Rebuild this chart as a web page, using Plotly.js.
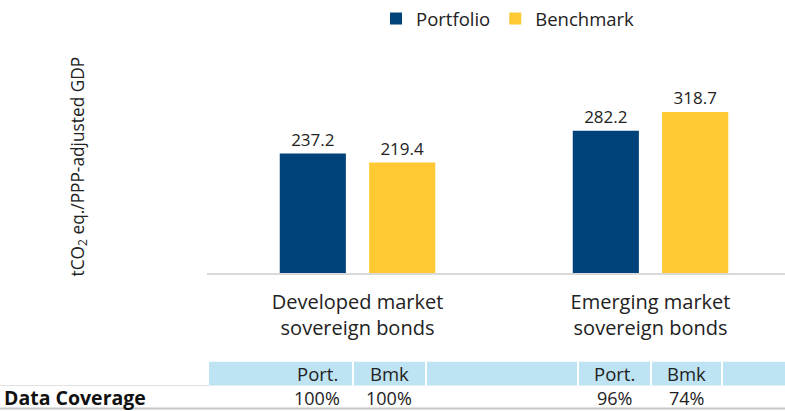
<!DOCTYPE html>
<html>
<head>
<meta charset="utf-8">
<script src="https://cdn.plot.ly/plotly-3.0.1.min.js"></script>
<style>html,body{margin:0;padding:0;background:#fff;}#chart{width:785px;height:411px;}</style>
</head>
<body>
<div id="chart"></div>
<script>
// ---- data ----
const categories = ["Developed market<br>sovereign bonds", "Emerging market<br>sovereign bonds"];
const portfolioValues = [237.2, 282.2];
const benchmarkValues = [219.4, 318.7];
const seriesNames = ["Portfolio", "Benchmark"];
const yAxisTitle = "tCO<sub>2</sub> eq./PPP-adjusted GDP";
const coverageLabel = "Data Coverage";
const coverageHeaders = ["Port.", "Bmk", "Port.", "Bmk"];
const coverageValues = ["100%", "100%", "96%", "74%"];

// ---- layout helpers (pixel -> paper) ----
const W = 785, H = 411;
const M = {l: 211, r: 0, t: 19, b: 137};
const PW = W - M.l - M.r, PH = H - M.t - M.b;
const px = v => (v - M.l) / PW;
const py = v => (H - M.b - v) / PH;

const navy = "#00437A", gold = "#FFC933", band = "#BEE3F3";
const FONT = "Open Sans, Noto Sans, sans-serif";
const txt = "#222222";

const xIdx = categories.map((_, i) => i);

const traces = [
  {type: "bar", name: seriesNames[0], x: xIdx, y: portfolioValues, marker: {color: navy},
   text: portfolioValues.map(v => v.toFixed(1)), textposition: "outside", cliponaxis: false,
   textfont: {family: FONT, size: 17, color: txt}, hoverinfo: "skip"},
  {type: "bar", name: seriesNames[1], x: xIdx, y: benchmarkValues, marker: {color: gold},
   text: benchmarkValues.map(v => v.toFixed(1)), textposition: "outside", cliponaxis: false,
   textfont: {family: FONT, size: 17, color: txt}, hoverinfo: "skip"}
];

const shapes = [];
const annotations = [];
// axis baseline
shapes.push({type: "line", xref: "paper", yref: "paper", x0: px(207), x1: px(785), y0: py(274), y1: py(274),
  line: {color: "#d9d9d9", width: 2}});
// table header band
shapes.push({type: "rect", xref: "paper", yref: "paper", x0: px(209), x1: px(785), y0: py(386), y1: py(362),
  fillcolor: band, line: {width: 0}, layer: "below"});
[353, 426, 578, 651, 722].forEach(x => shapes.push({type: "line", xref: "paper", yref: "paper",
  x0: px(x), x1: px(x), y0: py(386), y1: py(362), line: {color: "#ffffff", width: 2}}));
shapes.push({type: "line", xref: "paper", yref: "paper", x0: px(0), x1: px(209), y0: py(386), y1: py(386),
  line: {color: "#e0e0e0", width: 1}});
shapes.push({type: "line", xref: "paper", yref: "paper", x0: px(0), x1: px(785), y0: py(409), y1: py(409),
  line: {color: "#c8c8c8", width: 2}});

const colCenters = [317, 389, 614, 686];
coverageHeaders.forEach((t, i) => annotations.push({xref: "paper", yref: "paper", x: px(colCenters[i]), y: py(374),
  text: t, showarrow: false, xanchor: "center", yanchor: "middle", font: {family: FONT, size: 18.5, color: txt}}));
coverageValues.forEach((t, i) => annotations.push({xref: "paper", yref: "paper", x: px(colCenters[i]), y: py(398),
  text: t, showarrow: false, xanchor: "center", yanchor: "middle", font: {family: FONT, size: 18, color: txt}}));
annotations.push({xref: "paper", yref: "paper", x: px(2), y: py(398), text: "<b>" + coverageLabel + "</b>",
  showarrow: false, xanchor: "left", yanchor: "middle", font: {family: FONT, size: 19.5, color: "#111"}});
// y-axis title
annotations.push({xref: "paper", yref: "paper", x: px(79), y: py(166), text: yAxisTitle, textangle: -90,
  showarrow: false, xanchor: "center", yanchor: "middle", font: {family: FONT, size: 17.3, color: txt}});

const layout = {
  width: W, height: H,
  margin: M,
  paper_bgcolor: "#fff", plot_bgcolor: "#fff",
  barmode: "group", bargap: 0.39, bargroupgap: 0.26,
  showlegend: true,
  legend: {orientation: "h", x: px(508), xanchor: "center", y: py(18), yanchor: "middle",
    font: {family: FONT, size: 18.5, color: txt}, itemwidth: 30, traceorder: "normal"},
  xaxis: {range: [-0.5, 1.459], tickmode: "array", tickvals: xIdx, ticktext: categories,
    showgrid: false, zeroline: false, showline: false, ticks: "", ticklabelstandoff: 14,
    tickfont: {family: FONT, size: 20, color: txt}, fixedrange: true},
  yaxis: {range: [0, 500], showgrid: false, zeroline: false, showline: false, showticklabels: false, ticks: "", fixedrange: true},
  shapes: shapes,
  annotations: annotations
};

Plotly.newPlot("chart", traces, layout, {displayModeBar: false, staticPlot: true});
</script>
</body>
</html>
